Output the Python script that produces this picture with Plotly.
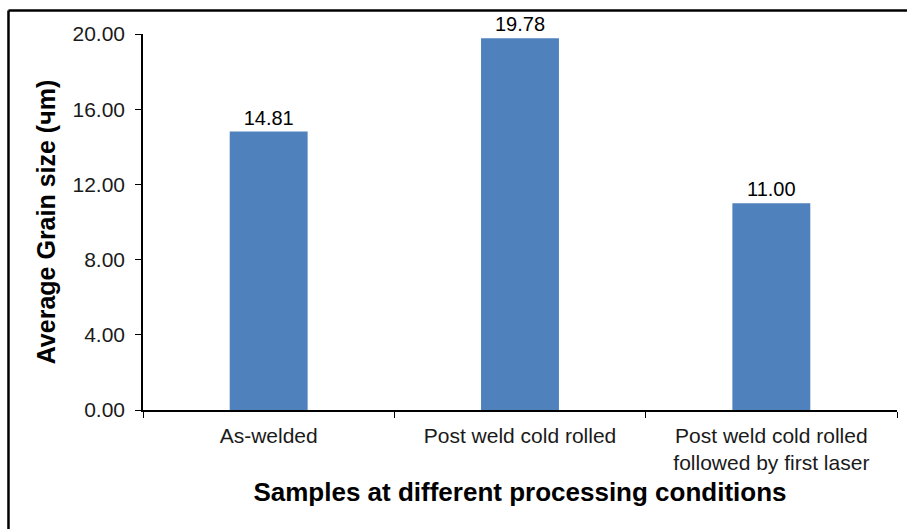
import plotly.graph_objects as go

categories = ["As-welded", "Post weld cold rolled", "Post weld cold rolled<br>followed by first laser"]
grain_size = [14.81, 19.78, 11.00]
y_ticks = [0, 4, 8, 12, 16, 20]

FONT = "Liberation Sans, Arial, sans-serif"

fig = go.Figure(
    go.Bar(
        x=categories,
        y=grain_size,
        width=0.31,
        marker=dict(color="#4F81BD", line=dict(width=0)),
        text=[f"{v:.2f}" for v in grain_size],
        textposition="outside",
        textfont=dict(family=FONT, size=20, color="#000000"),
        cliponaxis=False,
    )
)

fig.update_layout(
    width=907,
    height=529,
    margin=dict(l=143, r=10, t=34, b=119),
    paper_bgcolor="white",
    plot_bgcolor="white",
    showlegend=False,
    font=dict(family=FONT, size=20, color="#000000"),
    xaxis=dict(
        showline=True,
        linecolor="#000000",
        linewidth=1.5,
        ticks="outside",
        ticklen=6,
        tickcolor="#000000",
        tickson="boundaries",
        ticklabelstandoff=6,
        showgrid=False,
        tickfont=dict(family=FONT, size=21, color="#1a1a1a"),
        title=dict(
            text="<b>Samples at different processing conditions</b>",
            font=dict(family=FONT, size=26, color="#000000"),
            standoff=10,
        ),
    ),
    yaxis=dict(
        range=[0, 20],
        tickvals=y_ticks,
        ticktext=[f"{v:.2f}" for v in y_ticks],
        showline=True,
        linecolor="#000000",
        linewidth=1.5,
        ticks="outside",
        ticklen=6,
        tickcolor="#000000",
        ticklabelstandoff=6,
        showgrid=False,
        zeroline=False,
        tickfont=dict(family=FONT, size=21, color="#1a1a1a"),
        title=dict(
            text="<b>Average Grain size (чm)</b>",
            font=dict(family=FONT, size=25, color="#000000"),
            standoff=10,
        ),
    ),
)

# Outer frame: left and top edges of the chart border
frame = dict(type="line", xref="paper", yref="paper", line=dict(color="#000000", width=2.5))
fig.add_shape(**frame, x0=-0.1784, y0=1.0625, x1=1.02, y1=1.0625)
fig.add_shape(**frame, x0=-0.1784, y0=1.0625, x1=-0.1784, y1=-0.32)

fig.write_html("out.html")
